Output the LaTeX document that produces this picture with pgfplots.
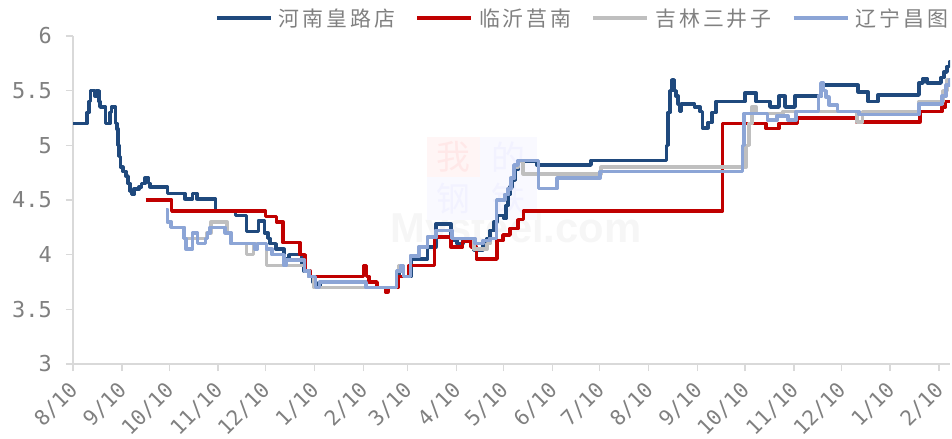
\documentclass[border=0pt]{standalone}
\usepackage{pgfplots}
\pgfplotsset{compat=1.18}
\usepackage{fontspec}
\newfontfamily\cjk{Noto Sans CJK SC}
\newfontfamily\monofnt{DejaVu Sans Mono}
\newfontfamily\wmfont{Liberation Sans}
\definecolor{dblue}{HTML}{1F497D}
\definecolor{dred}{HTML}{C00000}
\definecolor{lgray}{HTML}{BFBFBF}
\definecolor{lblue}{HTML}{8CA5D6}
\definecolor{txtgray}{HTML}{808080}
\definecolor{axgray}{HTML}{D9D9D9}
\begin{document}
\begin{tikzpicture}
\path[use as bounding box] (-73bp,-75bp) rectangle (879bp,364bp);
% faint watermark
\node[anchor=base, text=gray!7, font=\wmfont\bfseries\fontsize{42}{42}\selectfont] at (443bp,121bp) {Mysteel.com};
\fill[red!4] (354bp,187bp) rectangle (407bp,227bp);
\fill[blue!2.5] (407bp,187bp) rectangle (464bp,227bp);
\fill[blue!2.5] (354bp,144bp) rectangle (407bp,187bp);
\fill[blue!2.5] (407bp,144bp) rectangle (464bp,187bp);
\node[text=red!9, font=\cjk\fontsize{34}{34}\selectfont] at (380.5bp,207bp) {我};
\node[text=blue!5, font=\cjk\fontsize{34}{34}\selectfont] at (435.5bp,207bp) {的};
\node[text=blue!5, font=\cjk\fontsize{34}{34}\selectfont] at (380.5bp,165.5bp) {钢};
\node[text=blue!5, font=\cjk\fontsize{34}{34}\selectfont] at (435.5bp,165.5bp) {铁};
\begin{axis}[
  scale only axis, width=877bp, height=328bp,
  xmin=0, xmax=556, ymin=3, ymax=6, enlargelimits=false,
  axis x line*=bottom, axis y line*=left,
  axis line style={axgray, line width=1.3bp},
  xtick={0,31,61,92,122,153,184,212,243,273,304,334,365,396,426,457,487,518,549},
  xticklabels={8/10,9/10,10/10,11/10,12/10,1/10,2/10,3/10,4/10,5/10,6/10,7/10,8/10,9/10,10/10,11/10,12/10,1/10,2/10},
  ytick={3,3.5,4,4.5,5,5.5,6},
  yticklabels={3,3.5,4,4.5,5,5.5,6},
  minor tick num=0,
  tick align=outside, major tick length=7bp,
  tick style={axgray, line width=1.3bp},
  xticklabel style={font=\monofnt\fontsize{21}{21}\selectfont, text=txtgray, inner sep=0pt, yshift=-16bp, xshift=1bp, rotate=45, anchor=east},
  yticklabel style={font=\monofnt\fontsize{22}{22}\selectfont, text=txtgray, inner sep=0pt, anchor=east, xshift=-14bp},
  every axis plot/.append style={line width=3.5bp, line join=round, const plot, no marks},
  legend style={at={(axis description cs:0.9977,1.0549)}, anchor=east, draw=none, fill=none,
    inner sep=0pt, outer sep=0pt, legend columns=4,
    font=\cjk\fontsize{21}{21}\selectfont, text=txtgray, nodes={inner sep=0pt},
    /tikz/every odd column/.style={column sep=6bp},
    /tikz/every even column/.style={column sep=20bp}},
  legend cell align=left,
  legend image code/.code={\draw[#1] (0bp,0bp) -- (54bp,0bp);},
]
\addplot[dblue] coordinates {(0,5.2)(9,5.3)(10,5.4)(11.2,5.5)(13.9,5.45)(14.9,5.5)(16.5,5.4)(17.1,5.35)(20.6,5.2)(23.5,5.3)(24.4,5.35)(26.9,5.2)(27.9,5.15)(28.5,5.0)(29.2,4.9)(30.1,4.8)(31.7,4.76)(33.6,4.72)(34.9,4.65)(36.1,4.58)(37.1,4.55)(38.7,4.6)(41.8,4.62)(43.4,4.65)(45.6,4.7)(47.9,4.65)(48.8,4.62)(59.9,4.56)(71,4.51)(75.8,4.56)(78.6,4.51)(90.3,4.4)(103,4.36)(110.1,4.21)(117.5,4.31)(121.4,4.2)(123.6,4.15)(124.9,4.1)(128.7,4.05)(133.8,3.96)(136.9,4.0)(145.2,3.9)(146.5,3.85)(149.6,3.8)(152.2,3.75)(154.1,3.7)(156.6,3.75)(185.8,3.7)(205.2,3.8)(206.7,3.85)(208,3.9)(209.5,3.8)(214.3,3.96)(224.8,4.07)(230.1,4.28)(239.7,4.13)(243.5,4.1)(247.3,4.13)(254.2,4.04)(259.9,4.1)(262.5,4.15)(264.4,4.22)(266.9,4.3)(268.8,4.36)(273.3,4.33)(274.5,4.45)(275.8,4.55)(277.1,4.62)(278.3,4.68)(280.2,4.78)(282.1,4.85)(294.2,4.82)(328.4,4.86)(376.4,5.0)(377.2,5.3)(378.5,5.5)(379.6,5.6)(381,5.5)(382.3,5.45)(383.6,5.38)(384.5,5.31)(385.8,5.38)(394,5.35)(397.5,5.31)(399.1,5.16)(402.6,5.21)(405.1,5.3)(407.7,5.4)(426,5.48)(433,5.4)(441.9,5.35)(447.6,5.45)(451.4,5.35)(457.7,5.45)(474.2,5.55)(497.7,5.49)(504,5.4)(510.4,5.46)(536.4,5.57)(538.9,5.61)(541.4,5.57)(550.3,5.62)(552.2,5.67)(554.1,5.72)(555.7,5.76)(556,5.76)};
\addlegendentry{河\kern3bp 南\kern3bp 皇\kern3bp 路\kern3bp 店}
\addplot[dred] coordinates {(46.1,4.5)(62.6,4.4)(122,4.35)(129,4.3)(133.1,4.11)(143.9,4.0)(147.1,3.85)(150.3,3.8)(184.2,3.9)(186.1,3.8)(187.7,3.75)(192.7,3.7)(198.1,3.66)(199.7,3.7)(206.1,3.8)(213,3.9)(229.2,4.16)(239.7,4.07)(246.9,4.12)(252.3,4.07)(255.8,3.96)(268.8,4.13)(272.6,4.18)(277.1,4.24)(282.1,4.32)(285.6,4.4)(411.8,5.2)(439.4,5.155)(447.6,5.2)(459.3,5.25)(496.7,5.215)(537,5.31)(550.9,5.35)(553.2,5.4)(556,5.4)};
\addlegendentry{临\kern3bp 沂\kern3bp 莒\kern3bp 南}
\addplot[lgray] coordinates {(59,4.41)(59.9,4.3)(62.1,4.25)(70.4,4.15)(85,4.2)(87.5,4.3)(97.6,4.2)(100.2,4.1)(110,4.0)(114.4,4.1)(122.7,3.9)(146.8,3.85)(149.6,3.8)(152.8,3.7)(205.2,3.85)(206.4,3.9)(209.5,3.8)(214,3.99)(219.4,4.07)(224.8,4.16)(230.1,4.22)(240.3,4.15)(254.2,4.05)(262.5,4.1)(264.4,4.15)(268.6,4.5)(273.9,4.55)(275.8,4.6)(277.7,4.7)(279.6,4.8)(282.1,4.85)(285.3,4.74)(334.8,4.8)(426.7,5.0)(428.6,5.2)(430.5,5.35)(433,5.29)(450.1,5.31)(497,5.215)(500.5,5.31)(536.4,5.4)(551.6,5.5)(554.1,5.6)(556,5.6)};
\addlegendentry{吉\kern3bp 林\kern3bp 三\kern3bp 井\kern3bp 子}
\addplot[lblue] coordinates {(59,4.41)(59.9,4.3)(62.1,4.25)(70.4,4.15)(71.6,4.05)(75.8,4.2)(78.9,4.1)(84,4.15)(85.3,4.2)(86.9,4.25)(96.4,4.2)(100.2,4.1)(115.4,4.05)(117,4.1)(122.7,4.05)(126.2,4.0)(133.8,3.9)(135,3.95)(146.8,3.85)(149.6,3.8)(153.7,3.7)(156.3,3.75)(185.8,3.7)(205.2,3.85)(207.6,3.9)(209.5,3.8)(214,3.99)(219.4,4.07)(224.8,4.16)(230.1,4.22)(240.3,4.15)(254.9,4.1)(259.9,4.13)(264.4,4.15)(268.6,4.5)(273.9,4.55)(275.8,4.6)(277.7,4.7)(279.6,4.82)(282.1,4.86)(295.1,4.605)(306.9,4.7)(334.1,4.76)(424.5,5.0)(425.4,5.29)(440.3,5.23)(446.3,5.27)(453.3,5.23)(458.4,5.31)(472.6,5.45)(474.2,5.57)(475.8,5.5)(477.4,5.44)(479.3,5.37)(484.7,5.31)(498.3,5.28)(536.4,5.38)(550.9,5.45)(553.5,5.55)(555.7,5.6)(556,5.6)};
\addlegendentry{辽\kern3bp 宁\kern3bp 昌\kern3bp 图}
\end{axis}
\end{tikzpicture}
\end{document}
